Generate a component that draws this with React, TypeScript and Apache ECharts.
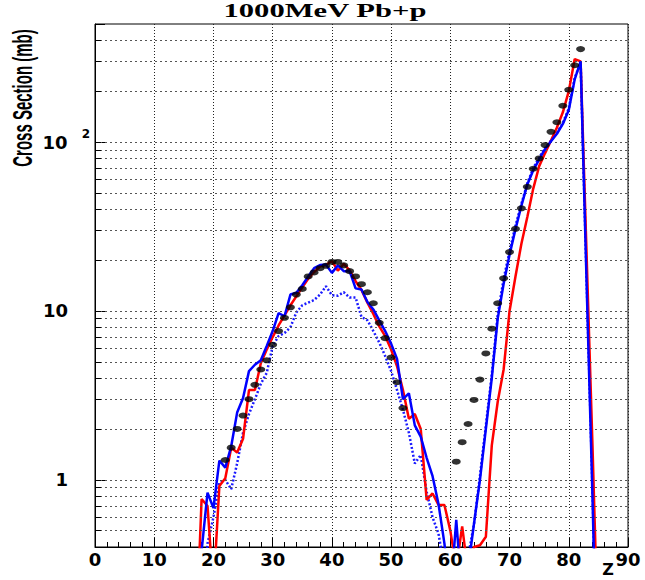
import React, { useEffect, useRef } from 'react';
import * as echarts from 'echarts';

// Z values for the calculated curves
const zLine = [17, 18, 19, 20, 21, 22, 23, 24, 25, 26, 27, 28, 29, 30, 31, 32, 33, 34, 35, 36, 37, 38, 39, 40, 41, 42, 43, 44, 45, 46, 47, 48, 49, 50, 51, 52, 53, 54, 55, 56, 57, 58, 59, 60, 61, 62, 63, 64, 65, 66, 67, 68, 69, 70, 71, 72, 73, 74, 75, 76, 77, 78, 79, 80, 81, 82, 83, 84, 85];

// red solid curve (mb)
const redCalc = [0.1, 0.77, 0.70, 0.22, 0.92, 1.02, 1.55, 1.45, 1.75, 3.4, 3.4, 4.9, 5.9, 7.0, 8.2, 9.4, 10.8, 12.2, 13.8, 15.5, 17.0, 18.3, 18.7, 19.8, 17.3, 19.0, 17.4, 15.0, 13.3, 11.2, 9.6, 8.1, 7.1, 5.9, 4.7, 3.4, 2.3, 2.45, 2.0, 0.76, 0.83, 0.71, 0.71, 0.5, 0.3, 0.53, 0.28, 0.40, 0.41, 0.46, 1.6, 2.9, 4.5, 10, 16, 25, 36, 53, 72, 86, 102, 122, 150, 200, 310, 300, 22, 1.6, 0.1];

// blue solid curve (mb)
const blueCalc = [0.1, 0.38, 0.84, 0.68, 1.30, 1.18, 1.58, 2.5, 3.05, 4.4, 4.8, 5.1, 6.2, 7.6, 9.7, 9.3, 12.5, 12.8, 14.2, 16.0, 17.9, 18.7, 18.8, 16.8, 18.6, 17.2, 17.2, 13.6, 13.4, 11.3, 10.2, 8.8, 7.6, 6.4, 5.2, 3.0, 3.25, 2.1, 1.8, 1.35, 1.05, 0.72, 0.42, 0.2, 0.58, 0.2, 0.3, 0.55, 1.0, 2.0, 4.0, 9.0, 14.5, 21.5, 30.5, 42, 56, 68, 79, 91, 101, 112, 128, 155, 235, 300, 15, 0.8, 0.03];

// blue dotted curve (mb)
const blueDotted = [0.05, 0.15, 0.42, 0.6, 0.96, 1.0, 0.88, 1.25, 1.9, 2.45, 3.0, 3.7, 4.3, 6.2, 7.1, 7.4, 8.0, 9.8, 10.8, 11.2, 11.6, 12.5, 14.0, 12.4, 12.3, 12.9, 12.0, 12.0, 9.2, 8.8, 7.6, 6.5, 5.4, 4.4, 3.4, 2.6, 1.9, 1.25, 1.4, 0.85, 0.6, 0.48, 0.3, 0.2, 0.2, 0.2, 0.35, 0.55, 1.05, 2.1, 4.2, 9.5, 15.5, 22.5, 32, 43, 57, 70, 81, 92, 102, 113, 130, 158, 240, 295, 16, 0.9, 0.04];

// experimental points
const zExp = [22, 23, 24, 25, 26, 27, 28, 29, 30, 31, 32, 33, 34, 35, 36, 37, 38, 39, 40, 41, 42, 43, 44, 45, 46, 47, 48, 49, 50, 51, 52, 61, 62, 63, 64, 65, 66, 67, 68, 69, 70, 71, 72, 73, 74, 75, 76, 77, 78, 79, 80, 81, 82];
const expXS = [1.31, 1.55, 2.0, 2.4, 3.0, 3.65, 4.5, 5.1, 6.3, 7.6, 9.1, 10.5, 12.5, 13.5, 16.0, 16.9, 17.9, 18.5, 19.5, 19.5, 18.6, 17.2, 16.0, 14.4, 12.9, 11.1, 8.5, 6.9, 5.3, 3.78, 2.66, 1.28, 1.67, 2.14, 2.97, 3.92, 5.6, 7.85, 11.1, 15.6, 22.3, 30.6, 40.5, 54.3, 69.5, 80, 96, 115, 131, 164, 204, 285, 355];

// log grid values
const yGridValues = [0.5, 0.6, 0.7, 0.8, 0.9, 1, 2, 3, 4, 5, 6, 7, 8, 9, 10, 20, 30, 40, 50, 60, 70, 80, 90, 100, 200, 300, 400];

const TITLE = '1000MeV Pb+p';
const Y_NAME = 'Cross Section (mb)';
const X_NAME = 'Z';

const near = (a: number, b: number) => Math.abs(a - b) < 1e-6 * b;

export default function App() {
  const ref = useRef<HTMLDivElement>(null);
  useEffect(() => {
    if (!ref.current) return;
    const chart = echarts.init(ref.current, undefined, { renderer: 'svg' });
    const pairs = (vals: number[]) => zLine.map((z, i) => [z, vals[i]]);
    const labelFont = { fontFamily: 'DejaVu Sans', fontWeight: 'bold' as const, color: '#000' };
    const option: any = {
      animation: false,
      backgroundColor: '#ffffff',
      grid: {
        left: 95, right: 17, top: 24, bottom: 33, show: true, borderColor: '#000', borderWidth: 1,
        backgroundColor: 'transparent', containLabel: false, outerBoundsMode: 'none'
      },
      graphic: [
        {
          type: 'text', x: 325, y: 11, scaleX: 1.7, z: 10,
          style: { text: TITLE, fontFamily: 'Liberation Serif', fontWeight: 'bold', fontSize: 18, fill: '#000', align: 'center', verticalAlign: 'middle' }
        },
        {
          type: 'text', x: 23, y: 98, rotation: Math.PI / 2, scaleY: 1.8, z: 10,
          style: { text: Y_NAME, fontFamily: 'Liberation Sans', fontWeight: 'bold', fontSize: 15, fill: '#000', align: 'center', verticalAlign: 'middle' }
        },
        {
          type: 'text', x: 608, y: 569.5, z: 10,
          style: { text: X_NAME, fontFamily: 'DejaVu Sans', fontWeight: 'bold', fontSize: 16, fill: '#000', align: 'center', verticalAlign: 'middle' }
        }
      ],
      xAxis: {
        type: 'value', min: 0, max: 90, interval: 10,
        axisLine: { show: true, onZero: false, lineStyle: { color: '#000', width: 1 } },
        axisTick: { show: true, inside: true, length: 9, lineStyle: { color: '#000' } },
        minorTick: { show: true, splitNumber: 5, length: 5, lineStyle: { color: '#000' } },
        splitLine: { show: true, lineStyle: { color: '#222', type: [1, 2], width: 1 } },
        axisLabel: { ...labelFont, fontSize: 18, lineHeight: 13, margin: 6 }
      },
      yAxis: {
        type: 'log', logBase: 10, min: 0.4, max: 500,
        axisLine: { show: true, lineStyle: { color: '#000', width: 1 } },
        axisTick: { show: true, inside: true, length: 10, lineStyle: { color: '#000' } },
        splitLine: { show: false },
        axisLabel: {
          margin: 5,
          formatter: (v: number) => {
            if (near(v, 1)) return '{n|1}';
            if (near(v, 10)) return '{n|10}';
            if (near(v, 100)) return '{m|10}{s|2}';
            return '';
          },
          rich: {
            n: { ...labelFont, fontSize: 18, padding: [0, 22, 0, 0] },
            m: { ...labelFont, fontSize: 18, padding: [0, 14, 0, 0], lineHeight: 28 },
            s: { ...labelFont, fontSize: 12, verticalAlign: 'top', lineHeight: 12 }
          }
        }
      },
      series: [
        {
          type: 'line', data: [], z: 1, silent: true,
          markLine: {
            silent: true, symbol: ['none', 'none'], label: { show: false },
            lineStyle: { color: '#555', type: [2, 3], width: 1 },
            data: yGridValues.map((v) => ({ yAxis: v }))
          }
        },
        {
          type: 'line', data: [], z: 1, silent: true,
          markLine: {
            silent: true, symbol: ['none', 'none'], label: { show: false },
            lineStyle: { color: '#000', type: 'solid', width: 1 },
            data: yGridValues.map((v) => [{ coord: [0, v] }, { coord: [1, v] }])
          }
        },
        {
          name: 'dotted', type: 'line', data: pairs(blueDotted), showSymbol: false, clip: true, z: 3,
          lineStyle: { color: '#1a1aff', width: 2.5, type: [2, 2] }
        },
        {
          name: 'red', type: 'line', data: pairs(redCalc), showSymbol: false, clip: true, z: 4,
          lineStyle: { color: '#ff0000', width: 2.5 }
        },
        {
          name: 'blue', type: 'line', data: pairs(blueCalc), showSymbol: false, clip: true, z: 5,
          lineStyle: { color: '#0000ff', width: 2.5 }
        },
        {
          name: 'exp', type: 'scatter', data: zExp.map((z, i) => [z, expXS[i]]), z: 6,
          symbol: 'circle', symbolSize: [9, 6], itemStyle: { color: '#000' }
        }
      ]
    };
    chart.setOption(option);
    return () => chart.dispose();
  }, []);
  return <div ref={ref} style={{ position: 'absolute', left: 0, top: 0, width: 645, height: 580, background: '#fff' }} />;
}
